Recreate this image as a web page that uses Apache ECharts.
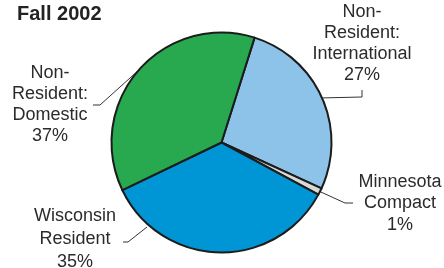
<!DOCTYPE html>
<html><head><meta charset="utf-8">
<script src="https://cdn.jsdelivr.net/npm/echarts@6/dist/echarts.min.js"></script>
<style>html,body{margin:0;padding:0;background:#fff}#c{width:444px;height:268px}</style>
</head><body><div id="c"></div>
<script>
var title = 'Fall 2002';
var categories = ['Non-\nResident:\nInternational', 'Minnesota\nCompact', 'Wisconsin\nResident', 'Non-\nResident:\nDomestic'];
var values = [27, 1, 35, 37];
var colors = ['#8dc3e8', '#d9d9d9', '#0096d6', '#28a84f'];

// label placement (layout only)
var labelPos = [
  {x: 362, y: 43.5, lh: 21, pts: function(p){ return [p, [362, 97], [362, 90]]; }},
  {x: 400, y: 203.5, lh: 21.5, pts: function(p){ return [p, [345, 203], [353, 203]]; }},
  {x: 75, y: 239, lh: 23, pts: function(p){ return [[147, 227], [128, 242], [123, 242]]; }},
  {x: 50, y: 105, lh: 21, pts: function(p){ return [p, [100, 105], [93, 105]]; }}
];

var chart = echarts.init(document.getElementById('c'), null, {renderer: 'canvas'});
var data = values.map(function(v, i){
  return {
    name: categories[i], value: v,
    itemStyle: {color: colors[i]},
    label: {lineHeight: labelPos[i].lh}
  };
});
chart.setOption({
  animation: false,
  title: {text: title, left: 12, top: -1,
    textStyle: {fontFamily: 'Liberation Sans, Arial, sans-serif', fontWeight: 'bold', fontSize: 20, color: '#222'}},
  series: [{
    type: 'pie',
    center: [221.5, 142.5],
    radius: [0, 110],
    startAngle: 72.5,
    clockwise: true,
    avoidLabelOverlap: false,
    data: data,
    itemStyle: {borderColor: '#1c1c1c', borderWidth: 2},
    emphasis: {disabled: true},
    label: {
      show: true,
      formatter: function(p){ return p.name + '\n' + p.value + '%'; },
      fontFamily: 'Liberation Sans, Arial, sans-serif',
      fontSize: 18, color: '#2b2b2b', align: 'center'
    },
    labelLine: {show: true, lineStyle: {color: '#333', width: 1}},
    labelLayout: function(params){
      var lp = labelPos[params.dataIndex];
      var start = params.labelLinePoints ? params.labelLinePoints[0] : [0,0];
      return {
        x: lp.x, y: lp.y, align: 'center', verticalAlign: 'middle',
        labelLinePoints: lp.pts(start)
      };
    }
  }]
});
</script></body></html>
